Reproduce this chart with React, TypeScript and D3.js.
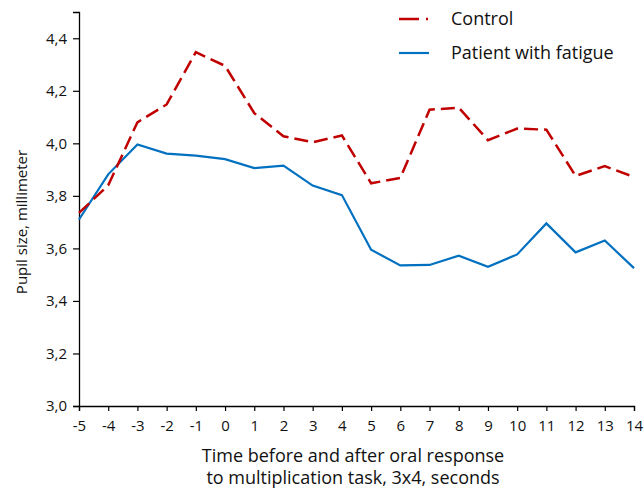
import { useEffect, useRef } from 'react';
import * as d3 from 'd3';

// Seconds relative to the oral response
const seconds = [-5, -4, -3, -2, -1, 0, 1, 2, 3, 4, 5, 6, 7, 8, 9, 10, 11, 12, 13, 14];

// Pupil size in mm
const controlValues = [
  3.735, 3.84, 4.08, 4.148, 4.347, 4.295, 4.115, 4.027, 4.004, 4.03,
  3.848, 3.868, 4.128, 4.136, 4.012, 4.056, 4.052, 3.876, 3.913, 3.872,
];
const fatigueValues = [
  3.71, 3.882, 3.996, 3.961, 3.953, 3.94, 3.906, 3.915, 3.839, 3.803,
  3.595, 3.535, 3.537, 3.572, 3.53, 3.577, 3.695, 3.585, 3.63, 3.525,
];

const yTicks = [3.0, 3.2, 3.4, 3.6, 3.8, 4.0, 4.2, 4.4];

const seriesNames = ['Control', 'Patient with fatigue'];

const RED = '#c00000';
const BLUE = '#0070c0';
const FONT = '"Open Sans", "Liberation Sans", sans-serif';

export default function App() {
  const svgRef = useRef<SVGSVGElement>(null);
  const width = 644;
  const height = 490;

  useEffect(() => {
    if (!svgRef.current) return;
    const svg = d3.select(svgRef.current);
    svg.selectAll('*').remove();

    const margin = { top: 12, right: 10, bottom: 84, left: 79 };
    const x = d3.scaleLinear().domain([-5, 14]).range([margin.left, 634]);
    const y = d3.scaleLinear().domain([3.0, 4.5]).range([height - margin.bottom, margin.top]);

    // Axes
    const xAxis = svg
      .append('g')
      .attr('transform', `translate(0,${y(3.0)})`)
      .call(d3.axisBottom(x).tickValues(seconds).tickSize(5).tickPadding(9).tickFormat((d) => `${d}`));
    xAxis.select('.domain').attr('stroke', '#000').attr('stroke-width', 1.3);
    xAxis.selectAll('.tick line').attr('stroke', '#000').attr('stroke-width', 1.2);
    xAxis
      .selectAll('text')
      .attr('fill', '#111')
      .attr('font-family', FONT)
      .attr('font-size', '15px');

    const yAxis = svg
      .append('g')
      .attr('transform', `translate(${x(-5)},0)`)
      .call(
        d3
          .axisLeft(y)
          .tickValues(yTicks)
          .tickSize(6)
          .tickPadding(6)
          .tickFormat((d) => d3.format('.1f')(d as number).replace('.', ',')),
      );
    yAxis.select('.domain').attr('stroke', '#000').attr('stroke-width', 1.3);
    yAxis.selectAll('.tick line').attr('stroke', '#000').attr('stroke-width', 1.2);
    yAxis
      .selectAll('text')
      .attr('fill', '#111')
      .attr('font-family', FONT)
      .attr('font-size', '15px');

    // Axis titles
    svg
      .append('text')
      .attr('transform', `translate(27,${(y(3.0) + y(4.5)) / 2 + 13}) rotate(-90)`)
      .attr('text-anchor', 'middle')
      .attr('font-family', FONT)
      .attr('font-size', '15px')
      .attr('fill', '#111')
      .text('Pupil size, millimeter');

    svg
      .append('text')
      .attr('x', 353)
      .attr('y', 462)
      .attr('text-anchor', 'middle')
      .attr('font-family', FONT)
      .attr('font-size', '18px')
      .attr('fill', '#111')
      .text('Time before and after oral response');
    svg
      .append('text')
      .attr('x', 353)
      .attr('y', 484)
      .attr('text-anchor', 'middle')
      .attr('font-family', FONT)
      .attr('font-size', '18px')
      .attr('fill', '#111')
      .text('to multiplication task, 3x4, seconds');

    // Lines
    const line = d3
      .line<number>()
      .x((_, i) => x(seconds[i]))
      .y((d) => y(d));

    svg
      .append('path')
      .datum(fatigueValues)
      .attr('fill', 'none')
      .attr('stroke', BLUE)
      .attr('stroke-width', 2.2)
      .attr('d', line);

    svg
      .append('path')
      .datum(controlValues)
      .attr('fill', 'none')
      .attr('stroke', RED)
      .attr('stroke-width', 2.5)
      .attr('stroke-dasharray', '14,6')
      .attr('d', line);

    // Legend
    const legend = svg.append('g').attr('transform', 'translate(399,0)');
    seriesNames.forEach((name, i) => {
      const ly = 19 + i * 34;
      legend
        .append('line')
        .attr('x1', 0)
        .attr('x2', 30)
        .attr('y1', ly)
        .attr('y2', ly)
        .attr('stroke', i === 0 ? RED : BLUE)
        .attr('stroke-width', i === 0 ? 2.5 : 2.2)
        .attr('stroke-dasharray', i === 0 ? '20,7,2,50' : null);
      legend
        .append('text')
        .attr('x', 52)
        .attr('y', ly + 6)
        .attr('font-family', FONT)
        .attr('font-size', '18px')
        .attr('fill', '#111')
        .text(name);
    });
  }, []);

  return (
    <svg
      ref={svgRef}
      width={width}
      height={height}
      style={{ position: 'absolute', left: 0, top: 0, background: '#fff' }}
    />
  );
}
